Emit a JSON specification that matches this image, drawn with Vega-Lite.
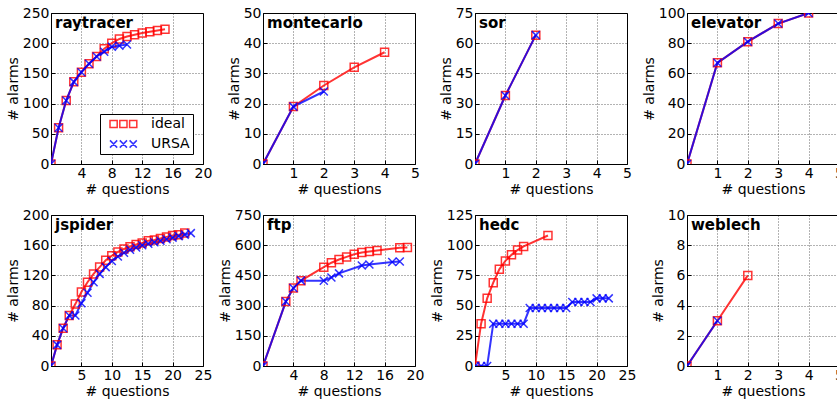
{
  "$schema": "https://vega.github.io/schema/vega-lite/v6.json",
  "padding": {"left": 5, "top": 5, "right": 0, "bottom": 0},
  "config": {
    "font": "DejaVu Sans",
    "view": {"stroke": "black", "strokeWidth": 1},
    "axis": {
      "domain": false, "grid": true, "gridColor": "#000000", "gridDash": [1, 2], "gridOpacity": 0.6,
      "tickSize": -4, "tickColor": "black", "labelFontSize": 14, "titleFontSize": 14,
      "titleFontWeight": "normal", "labelColor": "black", "titleColor": "black",
      "labelFlush": false, "labelOverlap": false, "labelPadding": 6, "titlePadding": 2
    }
  },
  "datasets": {
    "alarms": [
      {"prog": "raytracer", "series": "ideal", "q": 0, "alarms": 0},
      {"prog": "raytracer", "series": "ideal", "q": 1, "alarms": 60},
      {"prog": "raytracer", "series": "ideal", "q": 2, "alarms": 105},
      {"prog": "raytracer", "series": "ideal", "q": 3, "alarms": 136},
      {"prog": "raytracer", "series": "ideal", "q": 4, "alarms": 152},
      {"prog": "raytracer", "series": "ideal", "q": 5, "alarms": 166},
      {"prog": "raytracer", "series": "ideal", "q": 6, "alarms": 178},
      {"prog": "raytracer", "series": "ideal", "q": 7, "alarms": 191},
      {"prog": "raytracer", "series": "ideal", "q": 8, "alarms": 200},
      {"prog": "raytracer", "series": "ideal", "q": 9, "alarms": 207},
      {"prog": "raytracer", "series": "ideal", "q": 10, "alarms": 211},
      {"prog": "raytracer", "series": "ideal", "q": 11, "alarms": 214},
      {"prog": "raytracer", "series": "ideal", "q": 12, "alarms": 217},
      {"prog": "raytracer", "series": "ideal", "q": 13, "alarms": 219},
      {"prog": "raytracer", "series": "ideal", "q": 14, "alarms": 221},
      {"prog": "raytracer", "series": "ideal", "q": 15, "alarms": 223},
      {"prog": "montecarlo", "series": "ideal", "q": 0, "alarms": 0},
      {"prog": "montecarlo", "series": "ideal", "q": 1, "alarms": 19},
      {"prog": "montecarlo", "series": "ideal", "q": 2, "alarms": 26},
      {"prog": "montecarlo", "series": "ideal", "q": 3, "alarms": 32},
      {"prog": "montecarlo", "series": "ideal", "q": 4, "alarms": 37},
      {"prog": "sor", "series": "ideal", "q": 0, "alarms": 0},
      {"prog": "sor", "series": "ideal", "q": 1, "alarms": 34},
      {"prog": "sor", "series": "ideal", "q": 2, "alarms": 64},
      {"prog": "elevator", "series": "ideal", "q": 0, "alarms": 0},
      {"prog": "elevator", "series": "ideal", "q": 1, "alarms": 67},
      {"prog": "elevator", "series": "ideal", "q": 2, "alarms": 81},
      {"prog": "elevator", "series": "ideal", "q": 3, "alarms": 93},
      {"prog": "elevator", "series": "ideal", "q": 4, "alarms": 100},
      {"prog": "jspider", "series": "ideal", "q": 0, "alarms": 0},
      {"prog": "jspider", "series": "ideal", "q": 1, "alarms": 28},
      {"prog": "jspider", "series": "ideal", "q": 2, "alarms": 50},
      {"prog": "jspider", "series": "ideal", "q": 3, "alarms": 67},
      {"prog": "jspider", "series": "ideal", "q": 4, "alarms": 82},
      {"prog": "jspider", "series": "ideal", "q": 5, "alarms": 98},
      {"prog": "jspider", "series": "ideal", "q": 6, "alarms": 111},
      {"prog": "jspider", "series": "ideal", "q": 7, "alarms": 122},
      {"prog": "jspider", "series": "ideal", "q": 8, "alarms": 131},
      {"prog": "jspider", "series": "ideal", "q": 9, "alarms": 140},
      {"prog": "jspider", "series": "ideal", "q": 10, "alarms": 146},
      {"prog": "jspider", "series": "ideal", "q": 11, "alarms": 151},
      {"prog": "jspider", "series": "ideal", "q": 12, "alarms": 155},
      {"prog": "jspider", "series": "ideal", "q": 13, "alarms": 158},
      {"prog": "jspider", "series": "ideal", "q": 14, "alarms": 161},
      {"prog": "jspider", "series": "ideal", "q": 15, "alarms": 163},
      {"prog": "jspider", "series": "ideal", "q": 16, "alarms": 166},
      {"prog": "jspider", "series": "ideal", "q": 17, "alarms": 167},
      {"prog": "jspider", "series": "ideal", "q": 18, "alarms": 169},
      {"prog": "jspider", "series": "ideal", "q": 19, "alarms": 171},
      {"prog": "jspider", "series": "ideal", "q": 20, "alarms": 173},
      {"prog": "jspider", "series": "ideal", "q": 21, "alarms": 174},
      {"prog": "jspider", "series": "ideal", "q": 22, "alarms": 176},
      {"prog": "ftp", "series": "ideal", "q": 0, "alarms": 0},
      {"prog": "ftp", "series": "ideal", "q": 3, "alarms": 320},
      {"prog": "ftp", "series": "ideal", "q": 4, "alarms": 387},
      {"prog": "ftp", "series": "ideal", "q": 5, "alarms": 424},
      {"prog": "ftp", "series": "ideal", "q": 8, "alarms": 491},
      {"prog": "ftp", "series": "ideal", "q": 9, "alarms": 513},
      {"prog": "ftp", "series": "ideal", "q": 10, "alarms": 529},
      {"prog": "ftp", "series": "ideal", "q": 11, "alarms": 542},
      {"prog": "ftp", "series": "ideal", "q": 12, "alarms": 555},
      {"prog": "ftp", "series": "ideal", "q": 13, "alarms": 564},
      {"prog": "ftp", "series": "ideal", "q": 14, "alarms": 569},
      {"prog": "ftp", "series": "ideal", "q": 15, "alarms": 574},
      {"prog": "ftp", "series": "ideal", "q": 18, "alarms": 587},
      {"prog": "ftp", "series": "ideal", "q": 19, "alarms": 588},
      {"prog": "hedc", "series": "ideal", "q": 0, "alarms": 0},
      {"prog": "hedc", "series": "ideal", "q": 1, "alarms": 35},
      {"prog": "hedc", "series": "ideal", "q": 2, "alarms": 56},
      {"prog": "hedc", "series": "ideal", "q": 3, "alarms": 69},
      {"prog": "hedc", "series": "ideal", "q": 4, "alarms": 80},
      {"prog": "hedc", "series": "ideal", "q": 5, "alarms": 87},
      {"prog": "hedc", "series": "ideal", "q": 6, "alarms": 92},
      {"prog": "hedc", "series": "ideal", "q": 7, "alarms": 96},
      {"prog": "hedc", "series": "ideal", "q": 8, "alarms": 99},
      {"prog": "hedc", "series": "ideal", "q": 12, "alarms": 108},
      {"prog": "weblech", "series": "ideal", "q": 0, "alarms": 0},
      {"prog": "weblech", "series": "ideal", "q": 1, "alarms": 3},
      {"prog": "weblech", "series": "ideal", "q": 2, "alarms": 6},
      {"prog": "raytracer", "series": "URSA", "q": 0, "alarms": 0},
      {"prog": "raytracer", "series": "URSA", "q": 1, "alarms": 60},
      {"prog": "raytracer", "series": "URSA", "q": 2, "alarms": 105},
      {"prog": "raytracer", "series": "URSA", "q": 3, "alarms": 136},
      {"prog": "raytracer", "series": "URSA", "q": 4, "alarms": 152},
      {"prog": "raytracer", "series": "URSA", "q": 5, "alarms": 166},
      {"prog": "raytracer", "series": "URSA", "q": 6, "alarms": 178},
      {"prog": "raytracer", "series": "URSA", "q": 7, "alarms": 186},
      {"prog": "raytracer", "series": "URSA", "q": 8, "alarms": 194},
      {"prog": "raytracer", "series": "URSA", "q": 9, "alarms": 196},
      {"prog": "raytracer", "series": "URSA", "q": 10, "alarms": 198},
      {"prog": "montecarlo", "series": "URSA", "q": 0, "alarms": 0},
      {"prog": "montecarlo", "series": "URSA", "q": 1, "alarms": 19},
      {"prog": "montecarlo", "series": "URSA", "q": 2, "alarms": 24},
      {"prog": "sor", "series": "URSA", "q": 0, "alarms": 0},
      {"prog": "sor", "series": "URSA", "q": 1, "alarms": 34},
      {"prog": "sor", "series": "URSA", "q": 2, "alarms": 64},
      {"prog": "elevator", "series": "URSA", "q": 0, "alarms": 0},
      {"prog": "elevator", "series": "URSA", "q": 1, "alarms": 67},
      {"prog": "elevator", "series": "URSA", "q": 2, "alarms": 81},
      {"prog": "elevator", "series": "URSA", "q": 3, "alarms": 93},
      {"prog": "elevator", "series": "URSA", "q": 4, "alarms": 100},
      {"prog": "jspider", "series": "URSA", "q": 0, "alarms": 0},
      {"prog": "jspider", "series": "URSA", "q": 1, "alarms": 28},
      {"prog": "jspider", "series": "URSA", "q": 2, "alarms": 50},
      {"prog": "jspider", "series": "URSA", "q": 3, "alarms": 67},
      {"prog": "jspider", "series": "URSA", "q": 4, "alarms": 67},
      {"prog": "jspider", "series": "URSA", "q": 5, "alarms": 83},
      {"prog": "jspider", "series": "URSA", "q": 6, "alarms": 97},
      {"prog": "jspider", "series": "URSA", "q": 7, "alarms": 111},
      {"prog": "jspider", "series": "URSA", "q": 8, "alarms": 122},
      {"prog": "jspider", "series": "URSA", "q": 9, "alarms": 131},
      {"prog": "jspider", "series": "URSA", "q": 10, "alarms": 139},
      {"prog": "jspider", "series": "URSA", "q": 11, "alarms": 145},
      {"prog": "jspider", "series": "URSA", "q": 12, "alarms": 150},
      {"prog": "jspider", "series": "URSA", "q": 13, "alarms": 154},
      {"prog": "jspider", "series": "URSA", "q": 14, "alarms": 157},
      {"prog": "jspider", "series": "URSA", "q": 15, "alarms": 160},
      {"prog": "jspider", "series": "URSA", "q": 16, "alarms": 162},
      {"prog": "jspider", "series": "URSA", "q": 17, "alarms": 164},
      {"prog": "jspider", "series": "URSA", "q": 18, "alarms": 166},
      {"prog": "jspider", "series": "URSA", "q": 19, "alarms": 168},
      {"prog": "jspider", "series": "URSA", "q": 20, "alarms": 170},
      {"prog": "jspider", "series": "URSA", "q": 21, "alarms": 172},
      {"prog": "jspider", "series": "URSA", "q": 22, "alarms": 174},
      {"prog": "jspider", "series": "URSA", "q": 23, "alarms": 176},
      {"prog": "ftp", "series": "URSA", "q": 0, "alarms": 0},
      {"prog": "ftp", "series": "URSA", "q": 3, "alarms": 320},
      {"prog": "ftp", "series": "URSA", "q": 4, "alarms": 387},
      {"prog": "ftp", "series": "URSA", "q": 5, "alarms": 424},
      {"prog": "ftp", "series": "URSA", "q": 8, "alarms": 423},
      {"prog": "ftp", "series": "URSA", "q": 9, "alarms": 440},
      {"prog": "ftp", "series": "URSA", "q": 10, "alarms": 460},
      {"prog": "ftp", "series": "URSA", "q": 13, "alarms": 499},
      {"prog": "ftp", "series": "URSA", "q": 14, "alarms": 504},
      {"prog": "ftp", "series": "URSA", "q": 17, "alarms": 517},
      {"prog": "ftp", "series": "URSA", "q": 18, "alarms": 519},
      {"prog": "hedc", "series": "URSA", "q": 0, "alarms": 0},
      {"prog": "hedc", "series": "URSA", "q": 1, "alarms": 0},
      {"prog": "hedc", "series": "URSA", "q": 2, "alarms": 0},
      {"prog": "hedc", "series": "URSA", "q": 3, "alarms": 35},
      {"prog": "hedc", "series": "URSA", "q": 4, "alarms": 35},
      {"prog": "hedc", "series": "URSA", "q": 5, "alarms": 35},
      {"prog": "hedc", "series": "URSA", "q": 6, "alarms": 35},
      {"prog": "hedc", "series": "URSA", "q": 7, "alarms": 35},
      {"prog": "hedc", "series": "URSA", "q": 8, "alarms": 35},
      {"prog": "hedc", "series": "URSA", "q": 9, "alarms": 48},
      {"prog": "hedc", "series": "URSA", "q": 10, "alarms": 48},
      {"prog": "hedc", "series": "URSA", "q": 11, "alarms": 48},
      {"prog": "hedc", "series": "URSA", "q": 12, "alarms": 48},
      {"prog": "hedc", "series": "URSA", "q": 13, "alarms": 48},
      {"prog": "hedc", "series": "URSA", "q": 14, "alarms": 48},
      {"prog": "hedc", "series": "URSA", "q": 15, "alarms": 48},
      {"prog": "hedc", "series": "URSA", "q": 16, "alarms": 53},
      {"prog": "hedc", "series": "URSA", "q": 17, "alarms": 53},
      {"prog": "hedc", "series": "URSA", "q": 18, "alarms": 53},
      {"prog": "hedc", "series": "URSA", "q": 19, "alarms": 53},
      {"prog": "hedc", "series": "URSA", "q": 20, "alarms": 56},
      {"prog": "hedc", "series": "URSA", "q": 21, "alarms": 56},
      {"prog": "hedc", "series": "URSA", "q": 22, "alarms": 56},
      {"prog": "weblech", "series": "URSA", "q": 0, "alarms": 0},
      {"prog": "weblech", "series": "URSA", "q": 1, "alarms": 3}
    ]
  },
  "data": {"name": "alarms"},
  "columns": 4,
  "spacing": {"column": 60, "row": 51},
  "bounds": "flush",
  "resolve": {
    "scale": {"color": "independent", "shape": "independent"},
    "legend": {"color": "independent", "shape": "independent"}
  },
  "concat": [
    {
      "width": 152, "height": 151,
      "encoding": {
        "x": {"field": "q", "type": "quantitative", "scale": {"domain": [0, 20], "nice": false}, "axis": {"values": [0, 4, 8, 12, 16, 20], "title": "# questions", "labelExpr": "datum.value == 0 ? '' : datum.label"}},
        "y": {"field": "alarms", "type": "quantitative", "scale": {"domain": [0, 250], "nice": false}, "axis": {"values": [0, 50, 100, 150, 200, 250], "title": "# alarms"}}
      },
      "layer": [
        {"transform": [{"filter": "datum.prog === 'raytracer' && datum.series === 'ideal'"}], "mark": {"type": "line", "color": "#ff0000", "strokeWidth": 2, "opacity": 0.8, "clip": true}, "encoding": {}},
        {"transform": [{"filter": "datum.prog === 'raytracer' && datum.series === 'ideal'"}], "mark": {"type": "point", "shape": "square", "color": "#ff0000", "filled": false, "strokeWidth": 1.5, "opacity": 0.8, "size": 64, "clip": true}, "encoding": {}},
        {"transform": [{"filter": "datum.prog === 'raytracer' && datum.series === 'URSA'"}], "mark": {"type": "line", "color": "#0000ff", "strokeWidth": 2, "opacity": 0.8, "clip": true}, "encoding": {}},
        {"transform": [{"filter": "datum.prog === 'raytracer' && datum.series === 'URSA'"}], "mark": {"type": "point", "shape": "M-1,-1L1,1M1,-1L-1,1", "color": "#0000ff", "filled": false, "strokeWidth": 1.5, "opacity": 0.8, "size": 64, "clip": true}, "encoding": {}},
        {"transform": [{"filter": "datum.prog === 'raytracer'"}], "mark": {"type": "point", "filled": false, "opacity": 0, "strokeWidth": 1.5, "clip": true},
          "encoding": {
            "color": {"field": "series", "type": "nominal", "scale": {"domain": ["ideal", "URSA"], "range": ["#ff0000", "#0000ff"]},
              "legend": {"orient": "bottom-right", "offset": 10, "title": null, "labelFontSize": 14, "labelColor": "black", "padding": 3, "strokeColor": "black", "fillColor": "white", "cornerRadius": 0, "symbolSize": 64, "labelOffset": 34, "rowPadding": 6, "symbolStrokeWidth": 1.5, "symbolOpacity": 0.8}},
            "shape": {"field": "series", "type": "nominal", "scale": {"domain": ["ideal", "URSA"], "range": ["M0,-0.9H1.8V0.9H0Z M2.45,-0.9H4.25V0.9H2.45Z M4.9,-0.9H6.7V0.9H4.9Z", "M0,-0.9L1.8,0.9M1.8,-0.9L0,0.9M2.45,-0.9L4.25,0.9M4.25,-0.9L2.45,0.9M4.9,-0.9L6.7,0.9M6.7,-0.9L4.9,0.9"]},
              "legend": {"orient": "bottom-right", "offset": 10, "title": null, "labelFontSize": 14, "labelColor": "black", "padding": 3, "strokeColor": "black", "fillColor": "white", "cornerRadius": 0, "symbolSize": 64, "labelOffset": 34, "rowPadding": 6, "symbolStrokeWidth": 1.5, "symbolOpacity": 0.8}}
          }},
        {"transform": [{"filter": "datum.prog === 'raytracer' && datum.q === 0 && datum.series === 'ideal'"}], "mark": {"type": "text", "align": "left", "baseline": "top", "dx": 4, "dy": 3, "fontSize": 15, "fontWeight": "bold"},
          "encoding": {"x": {"datum": 0}, "y": {"datum": 250}, "text": {"field": "prog"}, "color": {"value": "black"}}}
      ]
    },
    {
      "width": 152, "height": 151,
      "encoding": {
        "x": {"field": "q", "type": "quantitative", "scale": {"domain": [0, 5], "nice": false}, "axis": {"values": [0, 1, 2, 3, 4, 5], "title": "# questions", "labelExpr": "datum.value == 0 ? '' : datum.label"}},
        "y": {"field": "alarms", "type": "quantitative", "scale": {"domain": [0, 50], "nice": false}, "axis": {"values": [0, 10, 20, 30, 40, 50], "title": "# alarms"}},
        "color": {"field": "series", "type": "nominal", "scale": {"domain": ["ideal", "URSA"], "range": ["#ff0000", "#0000ff"]}, "legend": null}
      },
      "layer": [
        {"transform": [{"filter": "datum.prog === 'montecarlo'"}], "mark": {"type": "line", "strokeWidth": 2, "opacity": 0.8, "clip": true}, "encoding": {}},
        {"transform": [{"filter": "datum.prog === 'montecarlo'"}], "mark": {"type": "point", "filled": false, "strokeWidth": 1.5, "opacity": 0.8, "size": 64, "clip": true},
          "encoding": {"shape": {"field": "series", "type": "nominal", "scale": {"domain": ["ideal", "URSA"], "range": ["square", "M-1,-1L1,1M1,-1L-1,1"]}, "legend": null}}},
        {"transform": [{"filter": "datum.prog === 'montecarlo' && datum.q === 0 && datum.series === 'ideal'"}], "mark": {"type": "text", "align": "left", "baseline": "top", "dx": 4, "dy": 3, "fontSize": 15, "fontWeight": "bold"},
          "encoding": {"x": {"datum": 0}, "y": {"datum": 50}, "text": {"field": "prog"}, "color": {"value": "black"}}}
      ]
    },
    {
      "width": 152, "height": 151,
      "encoding": {
        "x": {"field": "q", "type": "quantitative", "scale": {"domain": [0, 5], "nice": false}, "axis": {"values": [0, 1, 2, 3, 4, 5], "title": "# questions", "labelExpr": "datum.value == 0 ? '' : datum.label"}},
        "y": {"field": "alarms", "type": "quantitative", "scale": {"domain": [0, 75], "nice": false}, "axis": {"values": [0, 15, 30, 45, 60, 75], "title": "# alarms"}},
        "color": {"field": "series", "type": "nominal", "scale": {"domain": ["ideal", "URSA"], "range": ["#ff0000", "#0000ff"]}, "legend": null}
      },
      "layer": [
        {"transform": [{"filter": "datum.prog === 'sor'"}], "mark": {"type": "line", "strokeWidth": 2, "opacity": 0.8, "clip": true}, "encoding": {}},
        {"transform": [{"filter": "datum.prog === 'sor'"}], "mark": {"type": "point", "filled": false, "strokeWidth": 1.5, "opacity": 0.8, "size": 64, "clip": true},
          "encoding": {"shape": {"field": "series", "type": "nominal", "scale": {"domain": ["ideal", "URSA"], "range": ["square", "M-1,-1L1,1M1,-1L-1,1"]}, "legend": null}}},
        {"transform": [{"filter": "datum.prog === 'sor' && datum.q === 0 && datum.series === 'ideal'"}], "mark": {"type": "text", "align": "left", "baseline": "top", "dx": 4, "dy": 3, "fontSize": 15, "fontWeight": "bold"},
          "encoding": {"x": {"datum": 0}, "y": {"datum": 75}, "text": {"field": "prog"}, "color": {"value": "black"}}}
      ]
    },
    {
      "width": 152, "height": 151,
      "encoding": {
        "x": {"field": "q", "type": "quantitative", "scale": {"domain": [0, 5], "nice": false}, "axis": {"values": [0, 1, 2, 3, 4, 5], "title": "# questions", "labelExpr": "datum.value == 0 ? '' : datum.label"}},
        "y": {"field": "alarms", "type": "quantitative", "scale": {"domain": [0, 100], "nice": false}, "axis": {"values": [0, 20, 40, 60, 80, 100], "title": "# alarms"}},
        "color": {"field": "series", "type": "nominal", "scale": {"domain": ["ideal", "URSA"], "range": ["#ff0000", "#0000ff"]}, "legend": null}
      },
      "layer": [
        {"transform": [{"filter": "datum.prog === 'elevator'"}], "mark": {"type": "line", "strokeWidth": 2, "opacity": 0.8, "clip": true}, "encoding": {}},
        {"transform": [{"filter": "datum.prog === 'elevator'"}], "mark": {"type": "point", "filled": false, "strokeWidth": 1.5, "opacity": 0.8, "size": 64, "clip": true},
          "encoding": {"shape": {"field": "series", "type": "nominal", "scale": {"domain": ["ideal", "URSA"], "range": ["square", "M-1,-1L1,1M1,-1L-1,1"]}, "legend": null}}},
        {"transform": [{"filter": "datum.prog === 'elevator' && datum.q === 0 && datum.series === 'ideal'"}], "mark": {"type": "text", "align": "left", "baseline": "top", "dx": 4, "dy": 3, "fontSize": 15, "fontWeight": "bold"},
          "encoding": {"x": {"datum": 0}, "y": {"datum": 100}, "text": {"field": "prog"}, "color": {"value": "black"}}}
      ]
    },
    {
      "width": 152, "height": 151,
      "encoding": {
        "x": {"field": "q", "type": "quantitative", "scale": {"domain": [0, 25], "nice": false}, "axis": {"values": [0, 5, 10, 15, 20, 25], "title": "# questions", "labelExpr": "datum.value == 0 ? '' : datum.label"}},
        "y": {"field": "alarms", "type": "quantitative", "scale": {"domain": [0, 200], "nice": false}, "axis": {"values": [0, 40, 80, 120, 160, 200], "title": "# alarms"}},
        "color": {"field": "series", "type": "nominal", "scale": {"domain": ["ideal", "URSA"], "range": ["#ff0000", "#0000ff"]}, "legend": null}
      },
      "layer": [
        {"transform": [{"filter": "datum.prog === 'jspider'"}], "mark": {"type": "line", "strokeWidth": 2, "opacity": 0.8, "clip": true}, "encoding": {}},
        {"transform": [{"filter": "datum.prog === 'jspider'"}], "mark": {"type": "point", "filled": false, "strokeWidth": 1.5, "opacity": 0.8, "size": 64, "clip": true},
          "encoding": {"shape": {"field": "series", "type": "nominal", "scale": {"domain": ["ideal", "URSA"], "range": ["square", "M-1,-1L1,1M1,-1L-1,1"]}, "legend": null}}},
        {"transform": [{"filter": "datum.prog === 'jspider' && datum.q === 0 && datum.series === 'ideal'"}], "mark": {"type": "text", "align": "left", "baseline": "top", "dx": 4, "dy": 3, "fontSize": 15, "fontWeight": "bold"},
          "encoding": {"x": {"datum": 0}, "y": {"datum": 200}, "text": {"field": "prog"}, "color": {"value": "black"}}}
      ]
    },
    {
      "width": 152, "height": 151,
      "encoding": {
        "x": {"field": "q", "type": "quantitative", "scale": {"domain": [0, 20], "nice": false}, "axis": {"values": [0, 4, 8, 12, 16, 20], "title": "# questions", "labelExpr": "datum.value == 0 ? '' : datum.label"}},
        "y": {"field": "alarms", "type": "quantitative", "scale": {"domain": [0, 750], "nice": false}, "axis": {"values": [0, 150, 300, 450, 600, 750], "title": "# alarms"}},
        "color": {"field": "series", "type": "nominal", "scale": {"domain": ["ideal", "URSA"], "range": ["#ff0000", "#0000ff"]}, "legend": null}
      },
      "layer": [
        {"transform": [{"filter": "datum.prog === 'ftp'"}], "mark": {"type": "line", "strokeWidth": 2, "opacity": 0.8, "clip": true}, "encoding": {}},
        {"transform": [{"filter": "datum.prog === 'ftp'"}], "mark": {"type": "point", "filled": false, "strokeWidth": 1.5, "opacity": 0.8, "size": 64, "clip": true},
          "encoding": {"shape": {"field": "series", "type": "nominal", "scale": {"domain": ["ideal", "URSA"], "range": ["square", "M-1,-1L1,1M1,-1L-1,1"]}, "legend": null}}},
        {"transform": [{"filter": "datum.prog === 'ftp' && datum.q === 0 && datum.series === 'ideal'"}], "mark": {"type": "text", "align": "left", "baseline": "top", "dx": 4, "dy": 3, "fontSize": 15, "fontWeight": "bold"},
          "encoding": {"x": {"datum": 0}, "y": {"datum": 750}, "text": {"field": "prog"}, "color": {"value": "black"}}}
      ]
    },
    {
      "width": 152, "height": 151,
      "encoding": {
        "x": {"field": "q", "type": "quantitative", "scale": {"domain": [0, 25], "nice": false}, "axis": {"values": [0, 5, 10, 15, 20, 25], "title": "# questions", "labelExpr": "datum.value == 0 ? '' : datum.label"}},
        "y": {"field": "alarms", "type": "quantitative", "scale": {"domain": [0, 125], "nice": false}, "axis": {"values": [0, 25, 50, 75, 100, 125], "title": "# alarms"}},
        "color": {"field": "series", "type": "nominal", "scale": {"domain": ["ideal", "URSA"], "range": ["#ff0000", "#0000ff"]}, "legend": null}
      },
      "layer": [
        {"transform": [{"filter": "datum.prog === 'hedc'"}], "mark": {"type": "line", "strokeWidth": 2, "opacity": 0.8, "clip": true}, "encoding": {}},
        {"transform": [{"filter": "datum.prog === 'hedc'"}], "mark": {"type": "point", "filled": false, "strokeWidth": 1.5, "opacity": 0.8, "size": 64, "clip": true},
          "encoding": {"shape": {"field": "series", "type": "nominal", "scale": {"domain": ["ideal", "URSA"], "range": ["square", "M-1,-1L1,1M1,-1L-1,1"]}, "legend": null}}},
        {"transform": [{"filter": "datum.prog === 'hedc' && datum.q === 0 && datum.series === 'ideal'"}], "mark": {"type": "text", "align": "left", "baseline": "top", "dx": 4, "dy": 3, "fontSize": 15, "fontWeight": "bold"},
          "encoding": {"x": {"datum": 0}, "y": {"datum": 125}, "text": {"field": "prog"}, "color": {"value": "black"}}}
      ]
    },
    {
      "width": 152, "height": 151,
      "encoding": {
        "x": {"field": "q", "type": "quantitative", "scale": {"domain": [0, 5], "nice": false}, "axis": {"values": [0, 1, 2, 3, 4, 5], "title": "# questions", "labelExpr": "datum.value == 0 ? '' : datum.label"}},
        "y": {"field": "alarms", "type": "quantitative", "scale": {"domain": [0, 10], "nice": false}, "axis": {"values": [0, 2, 4, 6, 8, 10], "title": "# alarms"}},
        "color": {"field": "series", "type": "nominal", "scale": {"domain": ["ideal", "URSA"], "range": ["#ff0000", "#0000ff"]}, "legend": null}
      },
      "layer": [
        {"transform": [{"filter": "datum.prog === 'weblech'"}], "mark": {"type": "line", "strokeWidth": 2, "opacity": 0.8, "clip": true}, "encoding": {}},
        {"transform": [{"filter": "datum.prog === 'weblech'"}], "mark": {"type": "point", "filled": false, "strokeWidth": 1.5, "opacity": 0.8, "size": 64, "clip": true},
          "encoding": {"shape": {"field": "series", "type": "nominal", "scale": {"domain": ["ideal", "URSA"], "range": ["square", "M-1,-1L1,1M1,-1L-1,1"]}, "legend": null}}},
        {"transform": [{"filter": "datum.prog === 'weblech' && datum.q === 0 && datum.series === 'ideal'"}], "mark": {"type": "text", "align": "left", "baseline": "top", "dx": 4, "dy": 3, "fontSize": 15, "fontWeight": "bold"},
          "encoding": {"x": {"datum": 0}, "y": {"datum": 10}, "text": {"field": "prog"}, "color": {"value": "black"}}}
      ]
    }
  ]
}
